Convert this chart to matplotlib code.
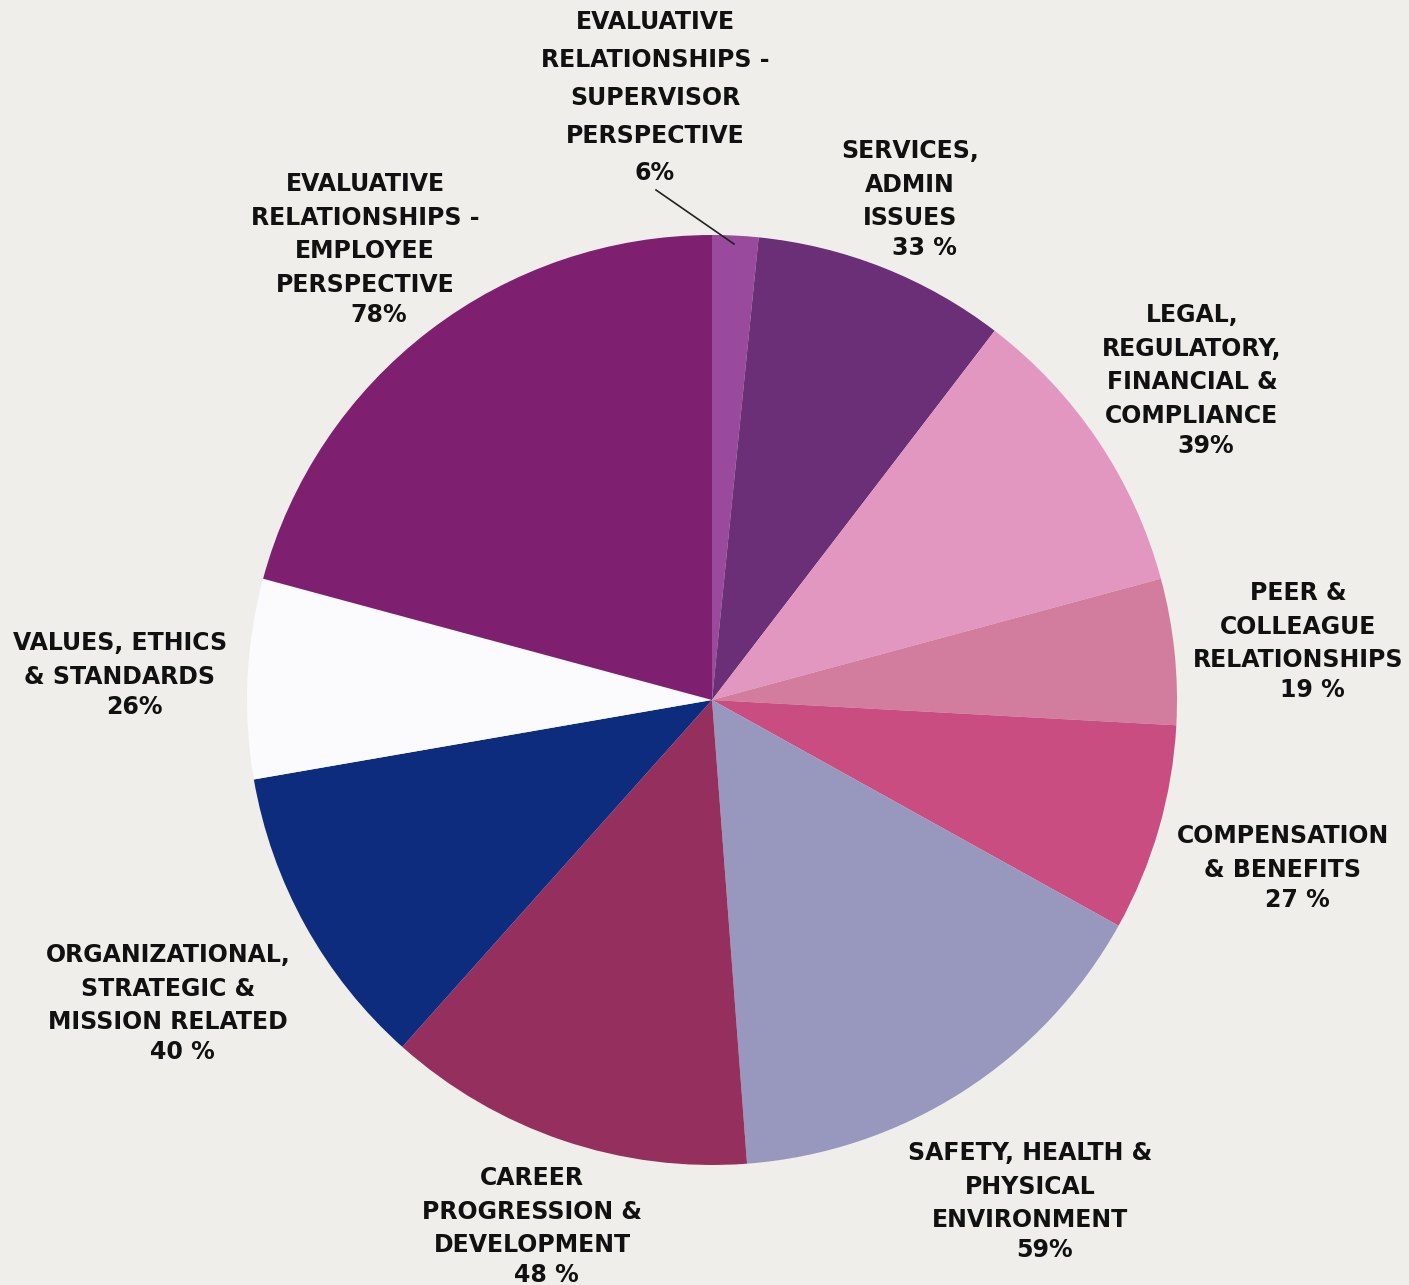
import matplotlib.pyplot as plt

# share of respondents raising each issue type (multi-response, so > 100% total)
categories = [
    "EVALUATIVE\nRELATIONSHIPS -\nSUPERVISOR\nPERSPECTIVE",
    "SERVICES,\nADMIN\nISSUES",
    "LEGAL,\nREGULATORY,\nFINANCIAL &\nCOMPLIANCE",
    "PEER &\nCOLLEAGUE\nRELATIONSHIPS",
    "COMPENSATION\n& BENEFITS",
    "SAFETY, HEALTH &\nPHYSICAL\nENVIRONMENT",
    "CAREER\nPROGRESSION &\nDEVELOPMENT",
    "ORGANIZATIONAL,\nSTRATEGIC &\nMISSION RELATED",
    "VALUES, ETHICS\n& STANDARDS",
    "EVALUATIVE\nRELATIONSHIPS -\nEMPLOYEE\nPERSPECTIVE",
]
values = [6, 33, 39, 19, 27, 59, 48, 40, 26, 78]
pct_labels = ["6%", "33 %", "39%", "19 %", "27 %", "59%", "48 %", "40 %", "26%", "78%"]

colors = [
    "#9a4a9c", "#6b2f77", "#e197c0", "#d27c9e", "#c94d80",
    "#9898bf", "#95305e", "#0e2c7e", "#fbfbfd", "#7e206f",
]

# label placement in pixels from the top-left: (x centre, first line centre)
label_pos = [
    (655, 20), (910, 149), (1192, 313), (1298, 591), (1283, 834),
    (1030, 1151), (532, 1176), (168, 953), (120, 641), (365, 182),
]

W, H = 1409, 1285
fig = plt.figure(figsize=(W / 100, H / 100), dpi=100, facecolor="#efeeea")
ax = fig.add_axes([0, 0, 1, 1])
ax.set_facecolor("#efeeea")

cx, cy, r = 712, H - 700, 465
ax.pie(values, colors=colors, startangle=90, counterclock=False,
       center=(cx, cy), radius=r, wedgeprops=dict(linewidth=0))

font = dict(family=["DejaVu Sans"], fontweight="bold",
            fontsize=17, color="#111111", ha="center", va="baseline")
cap = 9  # half cap height in px, centre -> baseline
for i, (name, pct) in enumerate(zip(categories, pct_labels)):
    x, y0 = label_pos[i]
    gap = 38 if i == 0 else 33.7
    lines = name.split("\n")
    for k, line in enumerate(lines):
        ax.text(x, H - (y0 + k * gap + cap), line, **font)
    py = y0 + (len(lines) - 1) * gap + (37 if i == 0 else 30)
    ax.text(x + (0 if i == 0 else 14), H - (py + cap), pct, **font)

# leader line for the thin supervisor slice
ax.plot([656, 734], [H - 190, H - 244], color="#222222", lw=1.2)

ax.set_xlim(0, W)
ax.set_ylim(0, H)
ax.set_aspect("equal")
ax.axis("off")

fig.savefig("out.png", dpi=100, facecolor=fig.get_facecolor())
